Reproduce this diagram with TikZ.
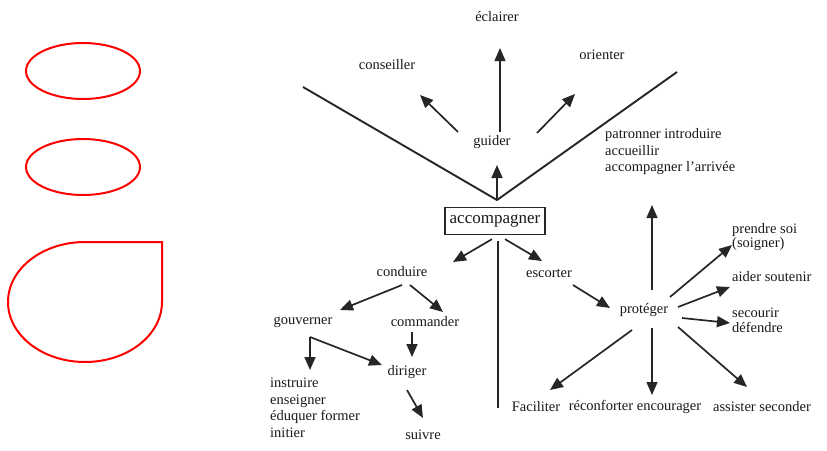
\documentclass[tikz,border=0pt]{standalone}
\usepackage{fontspec}
\setmainfont{Liberation Serif}
\usetikzlibrary{arrows.meta}

\tikzset{
  mot/.style={font=\fontsize{14.5}{16.5}\selectfont, text=black!90, inner sep=0pt},
  bloc/.style={mot, align=left, anchor=west},
  boite/.style={draw=black!85, line width=1.3pt, font=\fontsize{17}{20}\selectfont,
    text=black!90, inner sep=0pt, minimum width=100pt, minimum height=27pt},
  fleche/.style={-{Triangle[length=13pt,width=11pt]}, line width=1.7pt, draw=black!85},
  fine/.style={line width=1.1pt},
  branche/.style={line width=1.9pt, draw=black!85},
  rouge/.style={draw=red, line width=2pt},
}

\begin{document}
\begin{tikzpicture}[x=1pt,y=-1pt]
\useasboundingbox (0,0) rectangle (827,450);

% Formes rouges
\draw[rouge] (83,71) ellipse [x radius=57, y radius=28];
\draw[rouge] (83,167) ellipse [x radius=57, y radius=28];
\draw[rouge] (162,242) -- (85,242) arc [start angle=270, end angle=0, x radius=77, y radius=60] -- cycle;

% Haut : guider
\node[mot] (eclairer) at (497,17) {éclairer};
\node[mot] (conseiller) at (387,65) {conseiller};
\node[mot] (orienter) at (602,55) {orienter};
\node[mot] (guider) at (492,142) {guider};
\node[bloc] (patronner) at (605,152) {patronner introduire\\accueillir\\accompagner l'arrivée};

% Centre
\node[boite] (acc) at (495,221) {accompagner};
\coordinate (v) at (497,200);
\coordinate (vg) at (303,87);
\coordinate (vd) at (677,72);
\coordinate (bas) at (498,408);

% Gauche : conduire
\node[mot] (conduire) at (402,272) {conduire};
\node[mot] (gouverner) at (303,322) {gouverner};
\node[mot] (commander) at (425,322) {commander};
\node[mot] (diriger) at (407,372) {diriger};
\node[mot] (suivre) at (423,435) {suivre};
\node[bloc] (instruire) at (270,408) {instruire\\enseigner\\éduquer former\\initier};

% Droite : escorter, protéger
\node[mot] (escorter) at (549,273) {escorter};
\node[mot] (proteger) at (644,310) {protéger};
\coordinate (haut) at (652,205);
\node[bloc, font=\fontsize{14.5}{14}\selectfont] (prendre) at (732,237) {prendre soi\\(soigner)};
\node[bloc] (aider) at (732,277) {aider soutenir};
\node[bloc, font=\fontsize{14.5}{15}\selectfont] (secourir) at (732,320) {secourir\\défendre};
\node[mot] (faciliter) at (536,407) {Faciliter};
\node[mot] (reconforter) at (635,407) {réconforter encourager};
\node[mot] (assister) at (762,407) {assister seconder};

% Liens du haut
\draw[branche] (vg) -- (v) -- (vd);
\draw[fleche] (v) -- ([shift={(5,23)}]guider.center);
\draw[fleche,fine] ([shift={(8,-10)}]guider.center) -- ([shift={(3,31)}]eclairer.center);
\draw[fleche] ([shift={(-34,-10)}]guider.center) -- ([shift={(33,30)}]conseiller.center);
\draw[fleche] ([shift={(45,-9)}]guider.center) -- ([shift={(-27,39)}]orienter.center);

% Liens de gauche
\draw[fleche] ([shift={(-3,4)}]acc.south) -- ([shift={(51,-10)}]conduire.center);
\draw[fine,draw=black!85] ([shift={(3,6)}]acc.south) -- (bas);
\draw[fleche] ([shift={(0,13)}]conduire.center) -- ([shift={(37,-12)}]gouverner.center);
\draw[fleche] ([shift={(8,13)}]conduire.center) -- ([shift={(18,-10)}]commander.center);
\draw[fleche] ([shift={(-13,10)}]commander.center) -- ([shift={(5,-15)}]diriger.center);
\draw[fleche] ([shift={(7,15)}]gouverner.center) -- ([shift={(-25,-7)}]diriger.center);
\draw[fleche] ([shift={(7,15)}]gouverner.center) -- ([shift={(40,-38)}]instruire.west);
\draw[fleche] ([shift={(0,18)}]diriger.center) -- ([shift={(0,-17)}]suivre.center);

% Liens de droite
\draw[fleche] ([shift={(10,4)}]acc.south) -- ([shift={(-7,-12)}]escorter.center);
\draw[fleche] ([shift={(24,12)}]escorter.center) -- ([shift={(-34,-2)}]proteger.center);
\draw[fleche,fine] ([shift={(8,-20)}]proteger.center) -- (haut);
\draw[fleche] ([shift={(26,-13)}]proteger.center) -- ([shift={(0,8)}]prendre.west);
\draw[fleche] ([shift={(34,-3)}]proteger.center) -- ([shift={(-2,10)}]aider.west);
\draw[fleche] ([shift={(38,8)}]proteger.center) -- ([shift={(-2,3)}]secourir.west);
\draw[fleche] ([shift={(-12,20)}]proteger.center) -- ([shift={(14,-17)}]faciliter.center);
\draw[fleche,fine] ([shift={(8,18)}]proteger.center) -- ([shift={(17,-12)}]reconforter.center);
\draw[fleche] ([shift={(34,17)}]proteger.center) -- ([shift={(-15,-20)}]assister.center);
\end{tikzpicture}
\end{document}
